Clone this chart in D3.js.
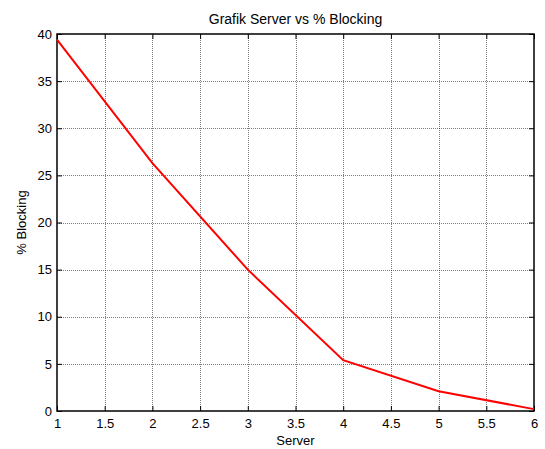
<!DOCTYPE html>
<html>
<head>
<meta charset="utf-8">
<script src="https://cdn.jsdelivr.net/npm/d3@7"></script>
<style>
  html, body { margin: 0; padding: 0; background: #fff; }
  svg { display: block; font-family: "Liberation Sans", Arial, Helvetica, sans-serif; }
</style>
</head>
<body>
<svg id="chart" width="545" height="449"></svg>
<script>
// Number of servers and the resulting blocking percentage
const servers = [1, 2, 3, 4, 5, 6];
const blocking = [39.4, 26.3, 15.0, 5.4, 2.1, 0.2];

const xTicks = [1, 1.5, 2, 2.5, 3, 3.5, 4, 4.5, 5, 5.5, 6];
const yTicks = [0, 5, 10, 15, 20, 25, 30, 35, 40];

const titleText = "Grafik Server vs % Blocking";
const xLabel = "Server";
const yLabel = "% Blocking";

const margin = { left: 57, right: 11, top: 34, bottom: 38 };
const W = 545, H = 449;
const svg = d3.select("#chart");

const x = d3.scaleLinear().domain([1, 6]).range([margin.left, W - margin.right]);
const y = d3.scaleLinear().domain([0, 40]).range([H - margin.bottom, margin.top]);

const x0 = x.range()[0], x1 = x.range()[1];
const y0 = y.range()[0], y1 = y.range()[1];

// Dotted grid
const grid = svg.append("g").attr("stroke", "#000").attr("stroke-opacity", 0.5)
  .attr("stroke-width", 1).attr("stroke-dasharray", "1,1");
grid.selectAll(".gx").data(xTicks.slice(1, -1)).join("line")
  .attr("x1", d => Math.round(x(d)) + 0.5).attr("x2", d => Math.round(x(d)) + 0.5)
  .attr("y1", y1).attr("y2", y0);
grid.selectAll(".gy").data(yTicks.slice(1, -1)).join("line")
  .attr("y1", d => Math.round(y(d)) + 0.5).attr("y2", d => Math.round(y(d)) + 0.5)
  .attr("x1", x0).attr("x2", x1);

// Axes with inward ticks on all four sides
const tickLen = 5;
const fmt = d3.format("");
const axBottom = svg.append("g").attr("transform", `translate(0,${y0})`)
  .call(d3.axisBottom(x).tickValues(xTicks).tickSize(-tickLen).tickPadding(8).tickFormat(fmt));
const axTop = svg.append("g").attr("transform", `translate(0,${y1})`)
  .call(d3.axisTop(x).tickValues(xTicks).tickSize(-tickLen).tickFormat(""));
const axLeft = svg.append("g").attr("transform", `translate(${x0},0)`)
  .call(d3.axisLeft(y).tickValues(yTicks).tickSize(-tickLen).tickPadding(5).tickFormat(fmt));
const axRight = svg.append("g").attr("transform", `translate(${x1},0)`)
  .call(d3.axisRight(y).tickValues(yTicks).tickSize(-tickLen).tickFormat(""));

[axBottom, axTop, axLeft, axRight].forEach(g => {
  g.select(".domain").remove();
  g.selectAll(".tick line").attr("stroke", "#000");
  g.selectAll("text").attr("fill", "#000").style("font-size", "13px")
    .style("font-family", "'Liberation Sans', Arial, sans-serif");
});

// Box
svg.append("rect").attr("x", x0).attr("y", y1).attr("width", x1 - x0).attr("height", y0 - y1)
  .attr("fill", "none").attr("stroke", "#000").attr("stroke-width", 1.5);

// Data line
const line = d3.line().x((d, i) => x(servers[i])).y(d => y(d));
svg.append("path").datum(blocking).attr("d", line)
  .attr("fill", "none").attr("stroke", "#ff0000").attr("stroke-width", 2);

// Labels
svg.append("text").attr("x", (x0 + x1) / 2).attr("y", 24).attr("text-anchor", "middle")
  .style("font-size", "14px").text(titleText);
svg.append("text").attr("x", (x0 + x1) / 2).attr("y", 445).attr("text-anchor", "middle")
  .style("font-size", "13px").text(xLabel);
svg.append("text").attr("transform", `translate(26,${(y0 + y1) / 2}) rotate(-90)`)
  .attr("text-anchor", "middle").style("font-size", "13px").text(yLabel);
</script>
</body>
</html>
